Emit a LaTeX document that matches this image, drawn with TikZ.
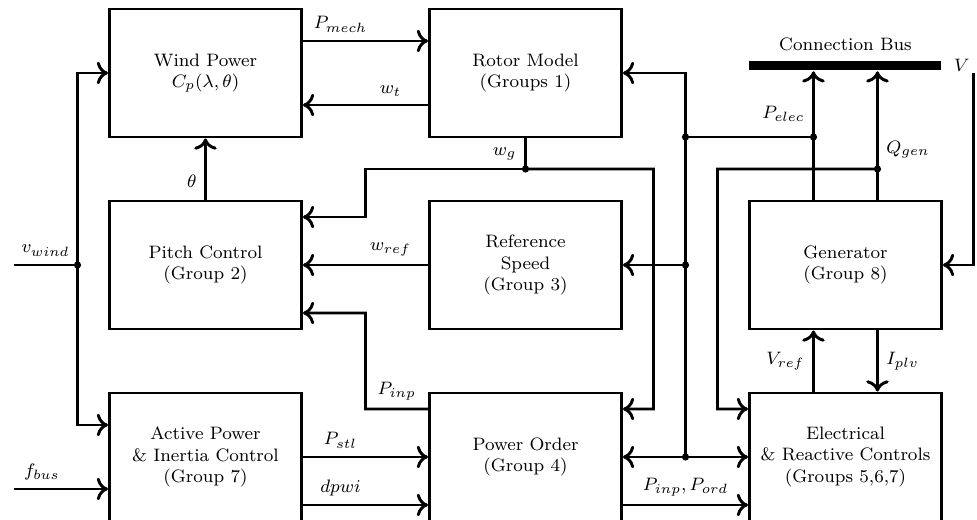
\documentclass[tikz,border=0pt]{standalone}
\usetikzlibrary{arrows.meta,positioning}

\begin{document}
	\begin{tikzpicture}[line width=1.3pt, font=\footnotesize,
		>={Computer Modern Rightarrow[length=5pt,width=10pt]},
		block/.style={draw, minimum width=3cm, minimum height=2cm, align=center, inner sep=0pt}]
		\useasboundingbox (-3.211,4.141) rectangle (12.055,-3.984);

		\node[block] (wind) at (0,3) {Wind Power\\$C_p(\lambda,\theta)$};
		\node[block] (rotor) at (5,3) {Rotor Model\\(Groups 1)};
		\node[block] (pitch) at (0,0) {Pitch Control\\(Group 2)};
		\node[block] (refspeed) at (5,0) {Reference\\Speed\\(Group 3)};
		\node[block] (gen) at (10,0) {Generator\\(Group 8)};
		\node[block] (active) at (0,-3) {Active Power\\\& Inertia Control\\(Group 7)};
		\node[block] (order) at (5,-3) {Power Order\\(Group 4)};
		\node[block] (elec) at (10,-3) {Electrical\\\& Reactive Controls\\(Groups 5,6,7)};

		\node[fill, inner sep=0pt, minimum width=3cm, minimum height=4pt] (bus) at (10,3.12) {};
		\node[above=0pt of bus] (buslabel) {Connection Bus};
		\node[right=1pt of bus] (vlabel) {$V$};

		\draw[->] ([yshift=5mm]wind.east) -- node[above, pos=.3] (lPmech) {$P_{mech}$} ([yshift=5mm]rotor.west);
		\draw[->] ([yshift=-5mm]rotor.west) -- node[above, pos=.3] (lwt) {$w_t$} ([yshift=-5mm]wind.east);
		\draw[->] (pitch.north) -- node[left, pos=.3] (ltheta) {$\theta$} (wind.south);

		% wind speed and frequency inputs
		\coordinate (vin) at (-3,0);
		\coordinate (vsplit) at (-2,0);
		\coordinate (fin) at (-3,-3.5);
		\draw (vin) -- node[above] (lvwind) {$v_{wind}$} (vsplit);
		\draw[->] (vsplit) |- (wind.west);
		\draw[->] (vsplit) |- ([yshift=5mm]active.west);
		\draw[->] (fin) -- node[above, pos=.3] (lfbus) {$f_{bus}$} ([yshift=-5mm]active.west);
		\fill (vsplit) circle (1.6pt);

		% generator speed
		\coordinate (wgsplit) at (5,1.5);
		\draw (rotor.south) -- node[left] (lwg) {$w_g$} (wgsplit);
		\draw[->] (wgsplit) -| (2.5,0.75) -- ([yshift=7.5mm]pitch.east);
		\draw[->] (wgsplit) -| (7,-2.25) -- ([yshift=7.5mm]order.east);
		\fill (wgsplit) circle (1.6pt);

		\draw[->] (refspeed.west) -- node[above, pos=.3] (lwref) {$w_{ref}$} (pitch.east);
		\draw[->] ([yshift=7.5mm]order.west) -- node[above] (lPinp) {$P_{inp}$} (2.5,-2.25) |- ([yshift=-7.5mm]pitch.east);
		\draw[->] (active.east) -- node[above, pos=.3] (lPstl) {$P_{stl}$} (order.west);
		\draw[->] ([yshift=-7.5mm]active.east) -- node[above, pos=.3] (ldpwi) {$dpwi$} ([yshift=-7.5mm]order.west);
		\draw[->] ([yshift=-7.5mm]order.east) -- node[above] (lPord) {$P_{inp}, P_{ord}$} ([yshift=-7.5mm]elec.west);

		% electrical power
		\coordinate (pesplit) at (9.5,2);
		\coordinate (pejoin) at (7.5,2);
		\coordinate (pemid) at (7.5,0);
		\coordinate (pebot) at (7.5,-3);
		\draw[->] ([xshift=-5mm]gen.north) -- node[left, pos=.67] (lPelec) {$P_{elec}$} ([xshift=-5mm]bus.south);
		\draw[->] (pesplit) -- (pejoin) |- (rotor.east);
		\draw (pejoin) -- (pebot);
		\draw[->] (pemid) -- (refspeed.east);
		\draw[->] (pebot) -- (order.east);
		\draw[->] (pebot) -- (elec.west);
		\foreach \p in {pesplit,pejoin,pemid,pebot}
			\fill (\p) circle (1.6pt);

		% reactive power and voltage
		\coordinate (qsplit) at (10.5,1.5);
		\draw[->] ([xshift=5mm]gen.north) -- node[right, pos=.39] (lQgen) {$Q_{gen}$} ([xshift=5mm]bus.south);
		\draw[->] (qsplit) -| (8,-2.25) -- ([yshift=7.5mm]elec.west);
		\fill (qsplit) circle (1.6pt);
		\coordinate (vtap) at (12,3);
		\draw[->] (vtap) |- (gen.east);

		\draw[->] ([xshift=-5mm]elec.north) -- node[left] (lVref) {$V_{ref}$} ([xshift=-5mm]gen.south);
		\draw[->] ([xshift=5mm]gen.south) -- node[right] (lIplv) {$I_{plv}$} ([xshift=5mm]elec.north);
	\end{tikzpicture}
\end{document}
